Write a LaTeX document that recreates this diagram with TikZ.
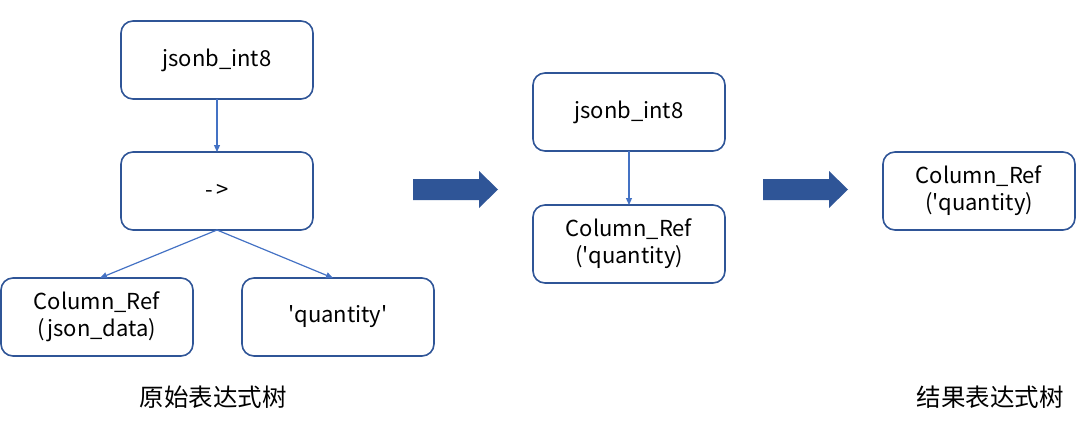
\documentclass[tikz,border=0pt]{standalone}
\usepackage{fontspec}
\setmainfont{Noto Sans CJK SC}
\usetikzlibrary{
    arrows.meta,
    positioning
}
\definecolor{boxblue}{HTML}{2F5597}
\definecolor{lineblue}{HTML}{4472C4}
\tikzset{
    treenode/.style = {
        draw = boxblue,
        line width = 1.6pt,
        rounded corners = 12pt,
        minimum width = 192pt,
        minimum height = 78pt,
        inner sep = 2pt,
        outer sep = 0pt,
        align = center,
        font = \fontsize{22}{27}\selectfont
    },
    link/.style = {
        draw = lineblue,
        line width = 1.2pt,
        -{Triangle[length = 7pt, width = 6pt]}
    },
    bigarrow/.style = {fill = boxblue},
    caption/.style = {font = \fontsize{24.5}{28}\selectfont}
}

\begin{document}
\begin{tikzpicture}[x = 1pt, y = -1pt]
    \useasboundingbox (0, 0) rectangle (1080, 426);

    % original tree
    \node[treenode] (root) at (217, 60) {jsonb\_int8};
    \node[treenode] (op) [below = 53pt of root] {-\,>};
    \node[treenode] (col) at (97, 317) {Column\_Ref\\(json\_data)};
    \node[treenode] (qty) at (338, 317) {\textquotesingle quantity\textquotesingle};
    \node[caption] (cap1) at (213, 397) {原始表达式树};

    \draw[link] (root) -- (op);
    \draw[link] (op.south) -- ([xshift = 3pt]col.north);
    \draw[link] (op.south) -- ([xshift = -5pt]qty.north);

    % intermediate tree
    \node[treenode] (root2) at (629, 112) {jsonb\_int8};
    \node[treenode] (col2) [below = 54pt of root2] {Column\_Ref\\(\textquotesingle quantity)};
    \draw[link] (root2) -- (col2);

    % result tree
    \node[treenode] (col3) at (979, 191) {Column\_Ref\\(\textquotesingle quantity)};
    \node[caption] (cap2) at (990, 397) {结果表达式树};

    % big arrows
    \foreach \x in {413, 763}
        \fill[bigarrow] (\x, 179) -- ++(66, 0) -- ++(0, -8) -- ++(19, 18.5)
            -- ++(-19, 18.5) -- ++(0, -8) -- ++(-66, 0) -- cycle;
\end{tikzpicture}
\end{document}
